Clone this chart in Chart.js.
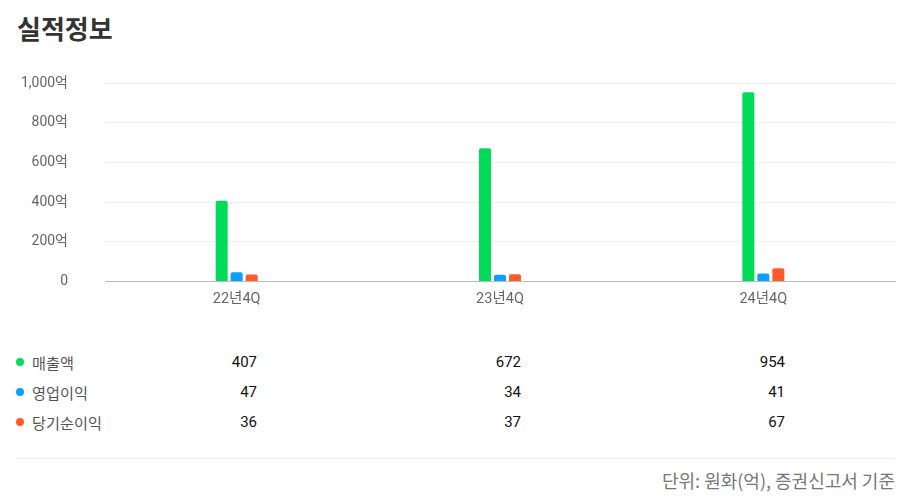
<!DOCTYPE html>
<html><head><meta charset="utf-8">
<script src="https://cdn.jsdelivr.net/npm/chart.js@4"></script>
<style>
html,body{margin:0;padding:0;background:#fff;width:905px;height:504px;overflow:hidden;font-family:Roboto,"Noto Sans CJK KR",sans-serif;}
#title{position:absolute;left:17px;top:9px;font-size:26px;font-weight:bold;color:#333;font-family:"Noto Sans CJK KR",sans-serif;}
#wrap{position:absolute;left:0;top:0;width:905px;height:327px;}
.row{position:absolute;left:0;width:905px;height:20px;}
.dot{position:absolute;left:16px;top:6px;width:8px;height:8px;border-radius:50%;}
.lbl{position:absolute;left:32px;top:0;font-size:15.2px;line-height:20px;color:#555;font-family:"Noto Sans CJK KR",sans-serif;}
.val{position:absolute;top:0;font-size:15px;line-height:20px;color:#111;text-align:right;width:60px;font-family:Roboto,sans-serif;}
#hr{position:absolute;left:16px;top:458px;width:879px;height:1px;background:#eeeeee;}
#foot{position:absolute;right:10px;top:467px;font-size:18px;line-height:26px;color:#777;font-family:"Noto Sans CJK KR",sans-serif;}
</style></head>
<body>
<div id="title">실적정보</div>
<div id="wrap"><canvas id="c"></canvas></div>
<div id="table"></div>
<div id="hr"></div>
<div id="foot">단위: 원화(억), 증권신고서 기준</div>
<script>
const categories = ["22년4Q", "23년4Q", "24년4Q"];
const seriesNames = ["매출액", "영업이익", "당기순이익"];
const revenue = [407, 672, 954];
const operatingProfit = [47, 34, 41];
const netProfit = [36, 37, 67];
const yTicks = [0, 200, 400, 600, 800, 1000];
const colors = ["#00dc5a", "#0aa0ff", "#ff5a28"];
const seriesValues = [revenue, operatingProfit, netProfit];

const ctx = document.getElementById('c');
new Chart(ctx, {
  type: 'bar',
  data: {
    labels: categories,
    datasets: seriesNames.map((n, i) => ({
      label: n,
      data: seriesValues[i],
      backgroundColor: colors[i],
      borderRadius: {topLeft: 2, topRight: 2},
      borderSkipped: 'bottom',
      categoryPercentage: 45 / 263.33,
      barPercentage: 0.8
    }))
  },
  options: {
    responsive: true,
    maintainAspectRatio: false,
    animation: false,
    layout: {padding: {top: 83, right: 10, bottom: 0, left: 0}},
    plugins: {legend: {display: false}, tooltip: {enabled: false}},
    scales: {
      x: {
        grid: {display: false, drawTicks: false},
        border: {display: true, color: '#bbbbbb'},
        ticks: {color: '#666', font: {family: 'Roboto, "Noto Sans CJK KR"', size: 14.5}, padding: 9},
        afterFit: s => { s.height = 39; }
      },
      y: {
        min: 0, max: 1000,
        afterBuildTicks: s => { s.ticks = yTicks.map(v => ({value: v})); },
        grid: {color: '#eeeeee', drawTicks: false},
        border: {display: false},
        ticks: {
          color: '#666', padding: 37,
          font: {family: 'Roboto, "Noto Sans CJK KR"', size: 14},
          callback: v => v === 0 ? '0' : v.toLocaleString('en-US') + '억'
        },
        afterFit: s => { s.width = 105; }
      }
    }
  }
});

const valRight = [257, 521, 785];
const rowTop = [352, 382, 412];
const table = document.getElementById('table');
seriesNames.forEach((n, i) => {
  const r = document.createElement('div');
  r.className = 'row';
  r.style.top = rowTop[i] + 'px';
  let h = '<div class="dot" style="background:' + colors[i] + '"></div><div class="lbl">' + n + '</div>';
  seriesValues[i].forEach((v, j) => {
    h += '<div class="val" style="left:' + (valRight[j] - 60) + 'px">' + v + '</div>';
  });
  r.innerHTML = h;
  table.appendChild(r);
});
</script>
</body></html>
